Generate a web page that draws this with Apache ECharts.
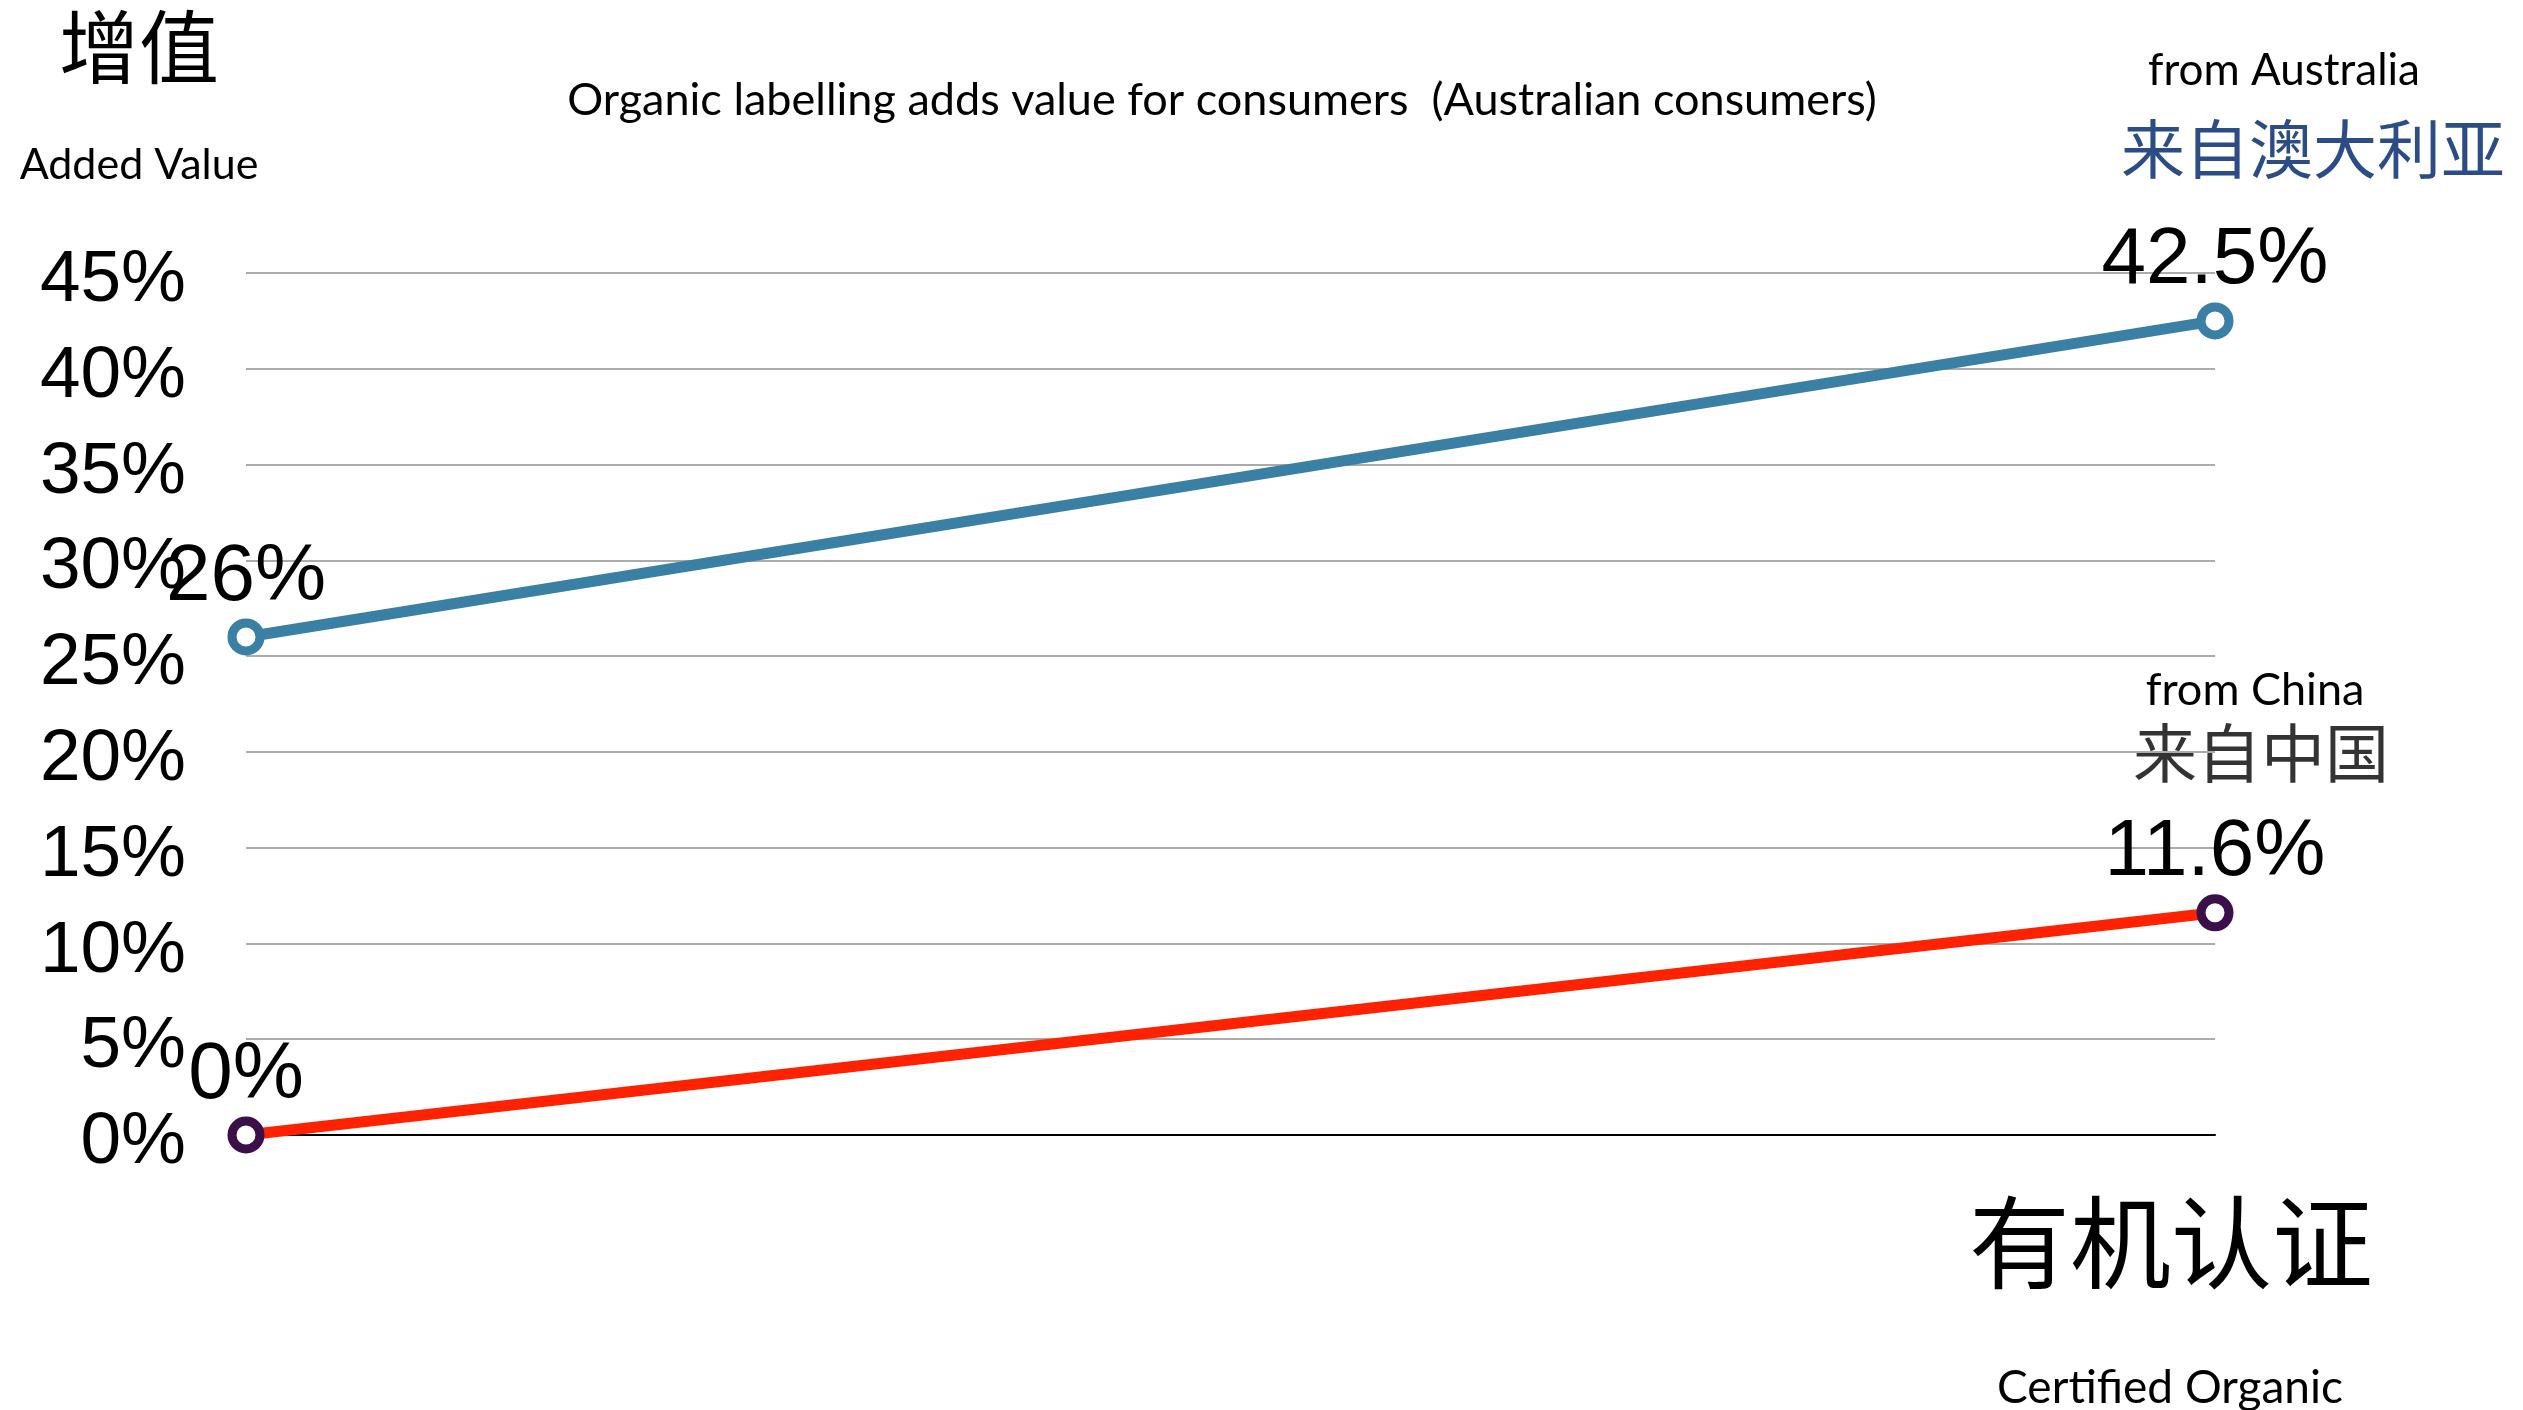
<!DOCTYPE html>
<html>
<head>
<meta charset="utf-8">
<script src="https://cdn.jsdelivr.net/npm/echarts@6/dist/echarts.min.js"></script>
<style>
html,body{margin:0;padding:0;background:#fff;}
#c{width:2523px;height:1410px;}
</style>
</head>
<body>
<div id="c"></div>
<script>
const categories = ['Not certified', 'Certified Organic'];
const australiaValues = [26, 42.5];
const chinaValues = [0, 11.6];
const australiaLabels = ['26%', '42.5%'];
const chinaLabels = ['0%', '11.6%'];
const yMin = 0, yMax = 45, yStep = 5;

const latin = 'Lato, "Open Sans", sans-serif';
const num = '"Liberation Sans", Arial, Helvetica, sans-serif';
const cjk = '"Noto Sans CJK SC", sans-serif';

const chart = echarts.init(document.getElementById('c'));

function txt(text, x, y, size, color, family) {
  return {
    type: 'text', x: x, y: y,
    style: { text: text, fontSize: size, fill: color, fontFamily: family,
             textAlign: 'center', textVerticalAlign: 'middle' }
  };
}

chart.setOption({
  backgroundColor: '#ffffff',
  animation: false,
  grid: { left: 246, right: 308, top: 273, bottom: 275 },
  xAxis: {
    type: 'category',
    data: categories,
    boundaryGap: false,
    axisLine: { show: true, lineStyle: { color: '#000', width: 2 } },
    axisTick: { show: false },
    axisLabel: { show: false },
    splitLine: { show: false }
  },
  yAxis: {
    type: 'value',
    min: yMin, max: yMax, interval: yStep,
    axisLine: { show: false },
    axisTick: { show: false },
    axisLabel: {
      formatter: '{value}%', fontSize: 73, color: '#000',
      fontFamily: num, margin: 60, verticalAlign: 'top', lineHeight: 16
    },
    splitLine: { show: true, lineStyle: { color: '#ababab', width: 2 } }
  },
  graphic: [
    txt('增值', 139, 47, 80, '#000', cjk),
    txt('Added Value', 139, 165, 43, '#000', latin),
    txt('Organic labelling adds value for consumers  (Australian consumers)', 1222, 100, 45, '#000', latin),
    txt('from Australia', 2284, 71, 44, '#000', latin),
    txt('来自澳大利亚', 2313, 149, 64, '#2c4c85', cjk),
    txt('from China', 2255, 690, 45, '#000', latin),
    txt('来自中国', 2261, 753, 64, '#333333', cjk),
    txt('有机认证', 2171, 1243, 101, '#000', cjk),
    txt('Certified Organic', 2170, 1388, 46, '#000', latin)
  ],
  series: [
    {
      name: 'from Australia',
      type: 'line',
      data: australiaValues,
      symbol: 'circle',
      symbolSize: 28,
      showAllSymbol: true,
      lineStyle: { color: '#3a7fa4', width: 11 },
      itemStyle: { color: '#ffffff', borderColor: '#3a7fa4', borderWidth: 9 },
      label: {
        show: true, position: 'top', distance: 1,
        fontSize: 80, color: '#000', fontFamily: num,
        formatter: p => australiaLabels[p.dataIndex]
      },
      z: 3
    },
    {
      name: 'from China',
      type: 'line',
      data: chinaValues,
      symbol: 'circle',
      symbolSize: 28,
      showAllSymbol: true,
      lineStyle: { color: '#ff2200', width: 11 },
      itemStyle: { color: '#ffffff', borderColor: '#3b0f4a', borderWidth: 9 },
      label: {
        show: true, position: 'top', distance: 1,
        fontSize: 80, color: '#000', fontFamily: num,
        formatter: p => chinaLabels[p.dataIndex]
      },
      z: 3
    }
  ]
});
</script>
</body>
</html>
